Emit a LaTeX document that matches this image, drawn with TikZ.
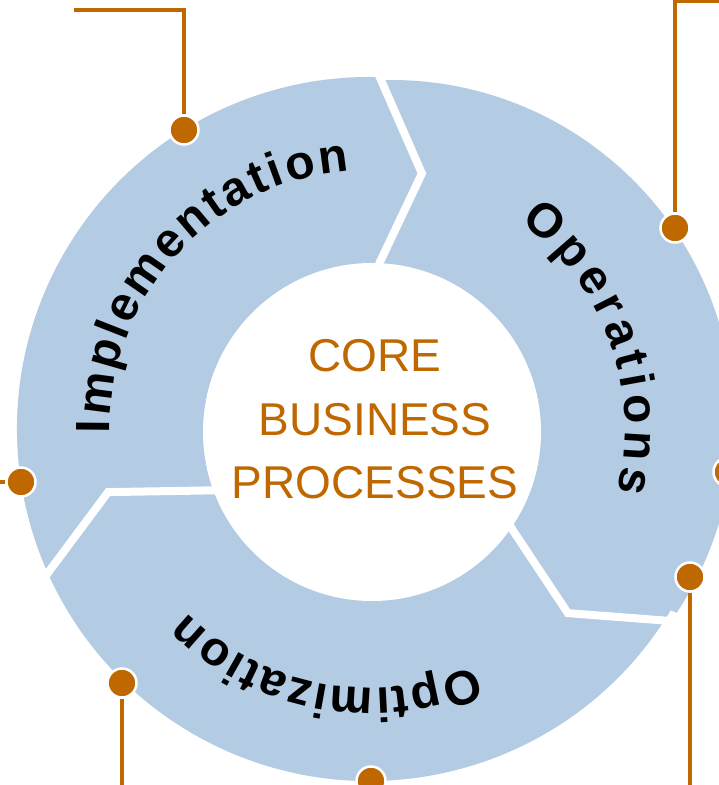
\documentclass[tikz,border=0pt]{standalone}
\usepackage{fontspec}
\setmainfont{Liberation Sans}
\usetikzlibrary{decorations.text}
\definecolor{ringblue}{RGB}{179,203,227}
\definecolor{rust}{RGB}{192,104,0}
\newcommand{\arclabel}{\bfseries\fontsize{48}{54}\selectfont}

\begin{document}
\begin{tikzpicture}[x=1pt, y=1pt,
    dot/.style={circle, fill=rust, draw=white, line width=2.5pt, minimum size=29pt, inner sep=0pt},
    lead/.style={draw=rust, line width=4pt},
    gap/.style={draw=white, line width=8pt, line join=miter},
    ringtext/.style={decorate, decoration={text along path, text align={fit to path}, text={|\arclabel|#1}}}]
  \useasboundingbox (0,0) rectangle (719,785);
  \clip (0,0) rectangle (719,785);

  % cycle ring
  \begin{scope}[shift={(369,356)}]
    \fill[ringblue] (89:352) -- ([shift={(22,6)}]91.8:343)
      arc[start angle=91.8, end angle=-33.6, radius=343]
      -- (-31:352) arc[start angle=-31, end angle=-271, radius=352] -- cycle;
    \draw[gap] (89:362) -- (78.3:261) -- (88.9:150);
    \draw[gap] (-31.3:372) -- (-42.8:271) -- (-32.9:160);
    \draw[gap] (205.2:364) -- (193.6:268.5) -- (202.5:160);
    \fill[white] (3,-3) circle (169);

    \path[ringtext=Implementation] (180.9:259) arc[start angle=180.9, end angle=94.4, radius=259];
    \path[ringtext=Operations] (53.9:256) arc[start angle=53.9, end angle=-14.1, radius=256];
    \path[ringtext=Optimization] (-66.1:259) arc[start angle=-66.1, end angle=-134.7, radius=259];
  \end{scope}

  \node[text=rust, align=center, font=\fontsize{46}{63.5}\selectfont] (core) at (375,365.5) {CORE\\BUSINESS\\PROCESSES};

  % markers
  \node[dot] (d1) at (184,655) {};
  \node[dot] (d2) at (675,557) {};
  \node[dot] (d3) at (21,303) {};
  \node[dot] (d4) at (690,208) {};
  \node[dot] (d5) at (122,102) {};
  \node[dot] (d6) at (371,4) {};
  \node[dot] (d7) at (728,313) {};

  \coordinate (e1) at (74,775);
  \coordinate (e2) at (730,783.5);
  \coordinate (e3) at (-10,303);
  \coordinate (e4) at (690,-15);
  \coordinate (e5) at (122,-15);

  \draw[lead] (d1) |- (e1);
  \draw[lead] (d2) |- (e2);
  \foreach \d/\e in {d3/e3, d4/e4, d5/e5}
    \draw[lead] (\d) -- (\e);
\end{tikzpicture}
\end{document}
